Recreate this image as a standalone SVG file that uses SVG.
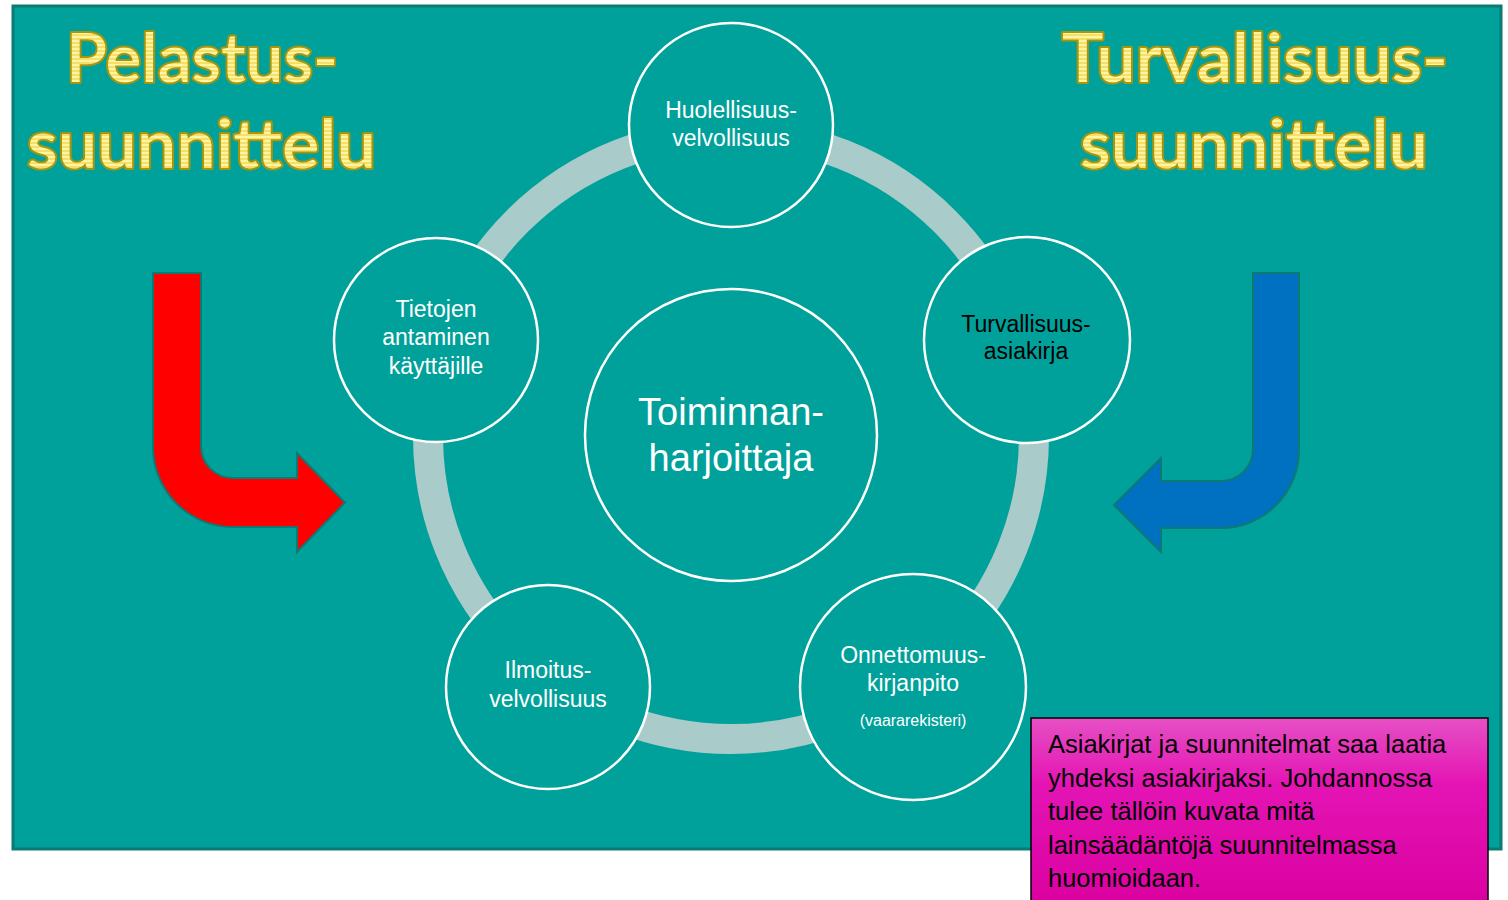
<svg xmlns="http://www.w3.org/2000/svg" width="1508" height="900" viewBox="0 0 1508 900">
<defs>
<pattern id="stripes" patternUnits="userSpaceOnUse" width="8" height="4">
<rect width="8" height="4" fill="#FFF5A0"/>
<rect y="2" width="8" height="2" fill="#F3DF6A"/>
</pattern>
<linearGradient id="mag" x1="0" y1="0" x2="0" y2="1">
<stop offset="0" stop-color="#E650C4"/>
<stop offset="0.35" stop-color="#E414B4"/>
<stop offset="1" stop-color="#DB00A0"/>
</linearGradient>
<style>
.title{font-family:Lato,"Liberation Sans",sans-serif;font-size:68px;font-weight:600;fill:url(#stripes);stroke:#A6950E;stroke-width:4;paint-order:stroke;stroke-linejoin:round}
.lbl{font-family:"Liberation Sans",Arial,sans-serif;font-size:23px;fill:#FFFFFF;text-anchor:middle}
.arrow{stroke:#0D7A73;stroke-width:2;stroke-linejoin:miter}
.note{font-family:"Liberation Sans",Arial,sans-serif;font-size:25.5px;fill:#000000}
</style>
</defs>
<rect x="0" y="0" width="1508" height="900" fill="#FFFFFF"/>
<rect id="background" x="13" y="6" width="1488" height="843" fill="#00A19A" stroke="#0A7A73" stroke-width="3"/>

<g id="titles">
<text class="title" x="66" y="82" textLength="272" lengthAdjust="spacingAndGlyphs">Pelastus-</text>
<text class="title" x="27" y="168" textLength="349" lengthAdjust="spacingAndGlyphs">suunnittelu</text>
<text class="title" x="1062" y="82" textLength="386" lengthAdjust="spacingAndGlyphs">Turvallisuus-</text>
<text class="title" x="1080" y="168" textLength="348" lengthAdjust="spacingAndGlyphs">suunnittelu</text>
</g>

<g id="connectors">
<circle cx="731" cy="436" r="303" fill="none" stroke="#A9CBC9" stroke-width="30"/>
</g>

<g id="arrow-red">
<path class="arrow" fill="#FF0000" d="M153,273 H201 V446 A32,32 0 0 0 233,478 H297 V453 L345,502.5 L297,552 V527 H233 A80,80 0 0 1 153,447 Z"/>
</g>
<g id="arrow-blue">
<path class="arrow" fill="#0070C0" d="M1299,273 H1253 V449 A32,32 0 0 1 1221,481 H1161 V458 L1114,505 L1161,552 V528 H1221 A78,78 0 0 0 1299,450 Z"/>
</g>

<g id="node-center">
<circle cx="731" cy="435" r="146" fill="#00A19A" stroke="#FFFFFF" stroke-width="2.5"/>
<text class="lbl" x="731" y="425" style="font-size:38px">Toiminnan-</text>
<text class="lbl" x="731" y="471" style="font-size:38px">harjoittaja</text>
</g>

<g id="node-huolellisuus">
<circle cx="731" cy="125" r="102" fill="#00A19A" stroke="#FFFFFF" stroke-width="2.5"/>
<text class="lbl" x="731" y="118">Huolellisuus-</text>
<text class="lbl" x="731" y="146">velvollisuus</text>
</g>

<g id="node-tietojen">
<circle cx="436" cy="340" r="102" fill="#00A19A" stroke="#FFFFFF" stroke-width="2.5"/>
<text class="lbl" x="436" y="317">Tietojen</text>
<text class="lbl" x="436" y="345">antaminen</text>
<text class="lbl" x="436" y="374">käyttäjille</text>
</g>

<g id="node-turvallisuusasiakirja">
<circle cx="1027" cy="340" r="103" fill="#00A19A" stroke="#FFFFFF" stroke-width="2.5"/>
<text class="lbl" x="1026" y="332" style="fill:#000000">Turvallisuus-</text>
<text class="lbl" x="1026" y="359" style="fill:#000000">asiakirja</text>
</g>

<g id="node-ilmoitus">
<circle cx="548" cy="687" r="102" fill="#00A19A" stroke="#FFFFFF" stroke-width="2.5"/>
<text class="lbl" x="548" y="678">Ilmoitus-</text>
<text class="lbl" x="548" y="707">velvollisuus</text>
</g>

<g id="node-onnettomuus">
<circle cx="913" cy="687" r="113" fill="#00A19A" stroke="#FFFFFF" stroke-width="2.5"/>
<text class="lbl" x="913" y="663">Onnettomuus-</text>
<text class="lbl" x="913" y="691">kirjanpito</text>
<text class="lbl" x="913" y="726" style="font-size:16px">(vaararekisteri)</text>
</g>

<g id="note">
<rect x="1031" y="718" width="457" height="190" fill="url(#mag)" stroke="#000000" stroke-width="1.5"/>
<text class="note" x="1048" y="753">Asiakirjat ja suunnitelmat saa laatia</text>
<text class="note" x="1048" y="787">yhdeksi asiakirjaksi. Johdannossa</text>
<text class="note" x="1048" y="820">tulee tällöin kuvata mitä</text>
<text class="note" x="1048" y="854">lainsäädäntöjä suunnitelmassa</text>
<text class="note" x="1048" y="887">huomioidaan.</text>
</g>
</svg>
